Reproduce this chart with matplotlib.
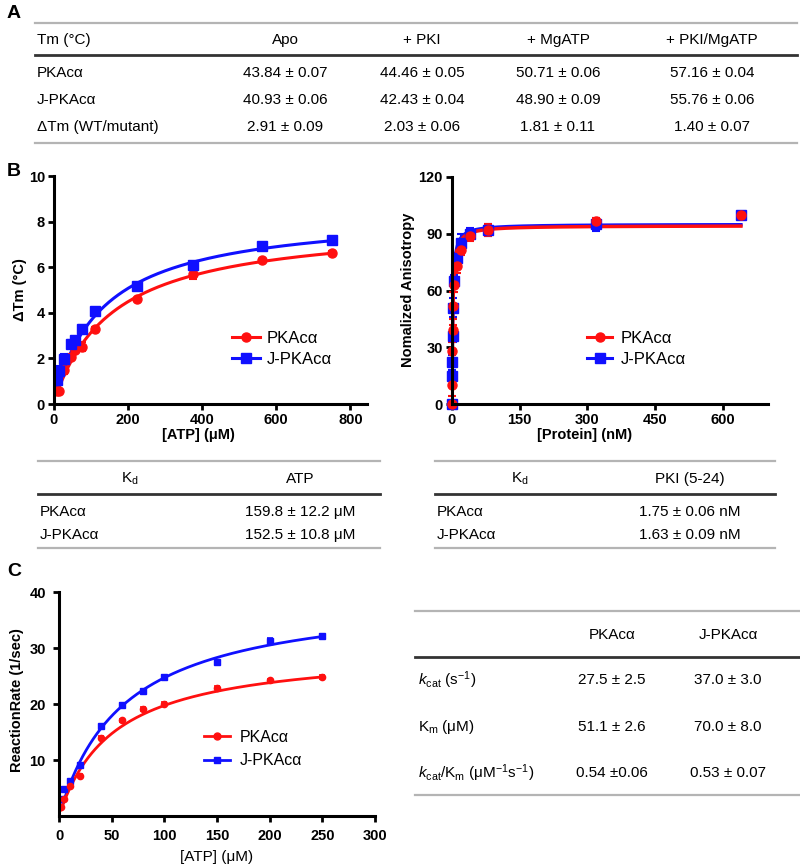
import numpy as np
import matplotlib
matplotlib.use('Agg')
import matplotlib.pyplot as plt
from matplotlib.lines import Line2D

plt.rcParams['font.family'] = ['Liberation Sans', 'DejaVu Sans']
plt.rcParams['mathtext.fontset'] = 'custom'
plt.rcParams['mathtext.rm'] = 'Liberation Sans'
plt.rcParams['mathtext.it'] = 'Liberation Sans:italic'
plt.rcParams['mathtext.bf'] = 'Liberation Sans:bold'

RED = '#ff1010'
BLUE = '#1010ff'

# ---- panel A table
tm_header = ['Tm (°C)', 'Apo', '+ PKI', '+ MgATP', '+ PKI/MgATP']
tm_rows = ['PKAcα', 'J-PKAcα', 'ΔTm (WT/mutant)']
tm_vals = [['43.84 ± 0.07', '44.46 ± 0.05', '50.71 ± 0.06', '57.16 ± 0.04'],
           ['40.93 ± 0.06', '42.43 ± 0.04', '48.90 ± 0.09', '55.76 ± 0.06'],
           ['2.91 ± 0.09', '2.03 ± 0.06', '1.81 ± 0.11', '1.40 ± 0.07']]

# ---- panel B left: thermal shift vs ATP
atp_x = [7, 14, 28, 45, 56, 75, 112, 225, 375, 562, 750]
dtm_wt = [0.57, 0.55, 1.5, 2.08, 2.38, 2.52, 3.28, 4.62, 5.68, 6.33, 6.64]
dtm_wt_err = [0.05, 0.05, 0.2, 0.1, 0.1, 0.2, 0.1, 0.05, 0.2, 0.05, 0.05]
dtm_j = [1.05, 1.45, 1.98, 2.64, 2.79, 3.3, 4.08, 5.18, 6.1, 6.92, 7.18]
dtm_j_err = [0.2, 0.2, 0.2, 0.15, 0.15, 0.15, 0.15, 0.1, 0.15, 0.05, 0.05]
# hyperbolic fit parameters (offset, max, Kd)
fit_dtm_wt = (0.1, 7.9, 160.0)
fit_dtm_j = (0.25, 8.2, 140.0)

# ---- panel B right: anisotropy vs protein
prot_x = [0, 0.3, 0.6, 1.25, 2.5, 5, 10, 20, 40, 80, 320, 640]
aniso_wt = [0, 10, 28, 39, 52, 63, 73, 81.5, 89, 92, 96.5, 100]
aniso_wt_err = [0.5, 6, 5, 3, 7, 4, 4, 2.5, 3, 3, 2, 1]
aniso_j = [0, 15, 22, 36, 51, 65, 77, 85, 90, 92, 95, 100]
aniso_j_err = [0.5, 3, 4, 3, 5, 3, 3, 5, 3, 3, 3.5, 1]
fit_aniso_wt = (94.3, 1.75)
fit_aniso_j = (95.0, 1.63)

kd_header = ['K$_\\mathregular{d}$', 'ATP', 'PKI (5-24)']
kd_rows = ['PKAcα', 'J-PKAcα']
kd_atp = ['159.8 ± 12.2 μM', '152.5 ± 10.8 μM']
kd_pki = ['1.75 ± 0.06 nM', '1.63 ± 0.09 nM']

# ---- panel C: kinetics
rate_x = [2, 5, 10, 20, 40, 60, 80, 100, 150, 200, 250]
rate_wt = [1.6, 3.0, 5.4, 7.2, 14.0, 17.1, 19.1, 20.0, 22.9, 24.2, 24.8]
rate_wt_err = [0.3, 0.3, 0.3, 0.3, 0.3, 0.3, 0.3, 0.3, 0.3, 0.3, 0.3]
rate_j = [3.0, 4.8, 6.2, 9.1, 16.0, 19.8, 22.3, 24.8, 27.5, 31.2, 32.2]
rate_j_err = [0.3, 0.4, 0.3, 0.3, 0.3, 0.3, 0.4, 0.3, 0.4, 0.5, 0.3]
fit_rate_wt = (30.0, 52.0)
fit_rate_j = (40.0, 62.0)

kin_header = ['PKAcα', 'J-PKAcα']
kin_rows = ['$\\it{k}$$_\\mathregular{cat}$ (s$^\\mathregular{-1}$)',
            'K$_\\mathregular{m}$ (μM)',
            '$\\it{k}$$_\\mathregular{cat}$/K$_\\mathregular{m}$ (μM$^\\mathregular{-1}$s$^\\mathregular{-1}$)']
kin_vals = [['27.5 ± 2.5', '37.0 ± 3.0'],
            ['51.1 ± 2.6', '70.0 ± 8.0'],
            ['0.54 ±0.06', '0.53 ± 0.07']]

W, H = 800, 867
fig = plt.figure(figsize=(W / 100, H / 100), dpi=100)


def fx(x):
    return x / W


def fy(y):
    return 1 - y / H


def hline(y, x0, x1, color='#b4b4b4', lw=1.6):
    fig.add_artist(Line2D([fx(x0), fx(x1)], [fy(y), fy(y)], transform=fig.transFigure,
                          color=color, lw=lw))


def txt(x, y, s, ha='center', size=10.5, **kw):
    fig.text(fx(x), fy(y), s, ha=ha, va='center', fontsize=size, **kw)


def make_axes(x0, y0, x1, y1, pad=2):
    ax = fig.add_axes([fx(x0), fy(y1), (x1 - x0) / W, (y1 - y0) / H])
    ax.spines['top'].set_visible(False)
    ax.spines['right'].set_visible(False)
    for s in ['left', 'bottom']:
        ax.spines[s].set_linewidth(2.2)
    ax.tick_params(width=2, length=4.5, labelsize=10.5, pad=pad)
    return ax


def bold_ticks(ax):
    for lab in ax.get_xticklabels() + ax.get_yticklabels():
        lab.set_fontweight('bold')


# panel letters
txt(14, 14, 'A', size=14, fontweight='bold')
txt(14, 172, 'B', size=14, fontweight='bold')
txt(14, 572, 'C', size=14, fontweight='bold')

# ---- A table
hline(23, 35, 797)
hline(55, 35, 797, color='#333333', lw=2)
hline(143, 35, 797)
col_x = [285, 422, 558, 712]
txt(37, 40, tm_header[0], ha='left', size=11)
for cx, h in zip(col_x, tm_header[1:]):
    txt(cx, 40, h, size=11)
for ry, name, vals in zip([73, 100, 127], tm_rows, tm_vals):
    txt(37, ry, name, ha='left', size=11)
    for cx, v in zip(col_x, vals):
        txt(cx, ry, v, size=11)

# ---- B left plot
ax1 = make_axes(54, 176, 367, 404)
xs = np.linspace(min(atp_x), max(atp_x), 300)
for xv, yv, ev, fit, col, mk in [(atp_x, dtm_wt, dtm_wt_err, fit_dtm_wt, RED, 'o'),
                                  (atp_x, dtm_j, dtm_j_err, fit_dtm_j, BLUE, 's')]:
    y0, bmax, kd = fit
    ax1.plot(xs, y0 + bmax * xs / (kd + xs), color=col, lw=2.2)
    ax1.errorbar(xv, yv, yerr=ev, fmt=mk, color=col, ms=6.5, capsize=3, elinewidth=1.5,
                 capthick=1.5)
ax1.set_xlim(0, 845)
ax1.set_ylim(0, 10)
ax1.set_xticks([0, 200, 400, 600, 800])
ax1.set_yticks([0, 2, 4, 6, 8, 10])
bold_ticks(ax1)
ax1.set_xlabel('[ATP] (μM)', fontsize=10.5, fontweight='bold')
ax1.set_ylabel('ΔTm (°C)', fontsize=10.5, fontweight='bold')
ax1.xaxis.set_label_coords(fx(198), fy(428), transform=fig.transFigure)
ax1.yaxis.set_label_coords(fx(27), fy(290), transform=fig.transFigure)
h1 = [Line2D([], [], color=RED, marker='o', lw=2.2, ms=6.5),
      Line2D([], [], color=BLUE, marker='s', lw=2.2, ms=6.5)]
ax1.legend(h1, ['PKAcα', 'J-PKAcα'], loc='center left', frameon=False, fontsize=12,
           handlelength=1.7, handletextpad=0.4, labelspacing=0.35,
           bbox_to_anchor=(fx(217), fy(349)), bbox_transform=fig.transFigure)

# ---- B right plot
ax2 = make_axes(452, 177, 768, 404)
xs2 = np.linspace(0, max(prot_x), 2000)
for xv, yv, ev, fit, col, mk in [(prot_x, aniso_j, aniso_j_err, fit_aniso_j, BLUE, 's'),
                                  (prot_x, aniso_wt, aniso_wt_err, fit_aniso_wt, RED, 'o')]:
    bmax, kd = fit
    ax2.plot(xs2, bmax * xs2 / (kd + xs2), color=col, lw=2.5)
    ax2.errorbar(xv, yv, yerr=ev, fmt=mk, color=col, ms=6.5, capsize=3, elinewidth=1.5,
                 capthick=1.5, clip_on=False)
ax2.set_xlim(0, 700)
ax2.set_ylim(0, 120)
ax2.set_xticks([0, 150, 300, 450, 600])
ax2.set_yticks([0, 30, 60, 90, 120])
bold_ticks(ax2)
ax2.set_xlabel('[Protein] (nM)', fontsize=10.5, fontweight='bold')
ax2.set_ylabel('Nomalized Anisotropy', fontsize=10.5, fontweight='bold')
ax2.xaxis.set_label_coords(fx(585), fy(428), transform=fig.transFigure)
ax2.yaxis.set_label_coords(fx(415), fy(290), transform=fig.transFigure)
ax2.legend(h1, ['PKAcα', 'J-PKAcα'], loc='center left', frameon=False, fontsize=12,
           handlelength=1.5, handletextpad=0.5, labelspacing=0.35,
           bbox_to_anchor=(fx(572), fy(349)), bbox_transform=fig.transFigure)

# ---- B tables
for x0, x1, hx, vx, head, vals in [(38, 380, 130, 300, kd_header[1], kd_atp),
                                   (435, 775, 520, 690, kd_header[2], kd_pki)]:
    hline(461, x0, x1)
    hline(494, x0, x1, color='#333333', lw=2)
    hline(548, x0, x1)
    txt(hx, 479, kd_header[0], size=11)
    txt(vx, 479, head, size=11)
    for ry, name, v in zip([512, 535], kd_rows, vals):
        txt(x0 + 2, ry, name, ha='left', size=11)
        txt(vx, ry, v, size=11)

# ---- C plot
ax3 = make_axes(59, 592, 375, 816, pad=5)
xs3 = np.linspace(min(rate_x), max(rate_x), 300)
for xv, yv, ev, fit, col, mk in [(rate_x, rate_j, rate_j_err, fit_rate_j, BLUE, 's'),
                                  (rate_x, rate_wt, rate_wt_err, fit_rate_wt, RED, 'o')]:
    vmax, km = fit
    ax3.plot(xs3, vmax * xs3 / (km + xs3), color=col, lw=2)
    ax3.errorbar(xv, yv, yerr=ev, fmt=mk, color=col, ms=4.5, capsize=2, elinewidth=1.2,
                 capthick=1.2)
ax3.set_xlim(0, 300)
ax3.set_ylim(0, 40)
ax3.set_xticks([0, 50, 100, 150, 200, 250, 300])
ax3.set_yticks([10, 20, 30, 40])
bold_ticks(ax3)
ax3.set_xlabel('[ATP] (μM)', fontsize=11)
ax3.set_ylabel('ReactionRate (1/sec)', fontsize=10.5, fontweight='bold')
ax3.xaxis.set_label_coords(fx(217), fy(850), transform=fig.transFigure)
ax3.yaxis.set_label_coords(fx(24), fy(700), transform=fig.transFigure)
h3 = [Line2D([], [], color=RED, marker='o', lw=2, ms=5),
      Line2D([], [], color=BLUE, marker='s', lw=2, ms=5)]
ax3.legend(h3, ['PKAcα', 'J-PKAcα'], loc='center left', frameon=False, fontsize=11.5,
           handlelength=1.6, handletextpad=0.6, labelspacing=0.55,
           bbox_to_anchor=(fx(190), fy(749)), bbox_transform=fig.transFigure)

# ---- C table
hline(611, 415, 800)
hline(657, 415, 800, color='#333333', lw=2)
hline(795, 415, 800)
kx = [612, 728]
for cx, h in zip(kx, kin_header):
    txt(cx, 635, h, size=11)
for ry, name, vals in zip([680, 727, 773], kin_rows, kin_vals):
    txt(418, ry, name, ha='left', size=11)
    for cx, v in zip(kx, vals):
        txt(cx, ry, v, size=11)

fig.savefig('out.png', dpi=100)
